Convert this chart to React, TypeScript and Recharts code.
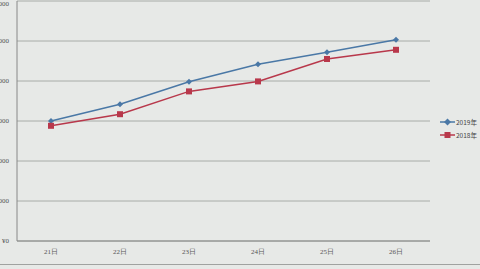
import React from "react";
import {
  LineChart,
  Line,
  XAxis,
  YAxis,
  CartesianGrid
} from "recharts";

const days = ["21日", "22日", "23日", "24日", "25日", "26日"];
const sales2019 = [3000, 3420, 3980, 4420, 4720, 5030];
const sales2018 = [2880, 3170, 3740, 3990, 4550, 4780];
const yTicks = [0, 1000, 2000, 3000, 4000, 5000, 6000];

const data = days.map((day, i) => ({
  day,
  y2019: sales2019[i],
  y2018: sales2018[i]
}));

const yen = (v: number) => "¥" + v.toLocaleString("en-US");

function LegendBox() {
  const items = [
    { label: "2019年", color: "#4a78a6", shape: "diamond" },
    { label: "2018年", color: "#b8384b", shape: "square" }
  ];
  return (
    <div
      style={{
        position: "absolute",
        left: 440,
        top: 115,
        fontSize: 6.5,
        color: "#444",
        whiteSpace: "nowrap",
        fontFamily: "Noto Sans CJK SC, sans-serif"
      }}
    >
      {items.map((it) => (
        <div key={it.label} style={{ display: "flex", alignItems: "center", height: 13 }}>
          <svg width={15} height={8}>
            <line x1={0} y1={4} x2={15} y2={4} stroke={it.color} strokeWidth={1.5} />
            {it.shape === "square" ? (
              <rect x={4.5} y={1} width={6} height={6} fill={it.color} />
            ) : (
              <polygon points="7.5,0.5 11,4 7.5,7.5 4,4" fill={it.color} />
            )}
          </svg>
          <span style={{ marginLeft: 1 }}>{it.label}</span>
        </div>
      ))}
    </div>
  );
}

export default function App() {
  return (
    <div
      style={{
        position: "fixed",
        left: 0,
        top: 0,
        width: 480,
        height: 269,
        background: "#e7e9e7",
        overflow: "hidden"
      }}
    >
      <LineChart
        width={480}
        height={269}
        data={data}
        margin={{ top: 1, right: 50, bottom: 8, left: 0 }}
      >
        <CartesianGrid vertical={false} stroke="#9a9c9a" strokeWidth={0.8} />
        <XAxis
          dataKey="day"
          height={20}
          padding={{ left: 34, right: 34 }}
          tick={{ fontSize: 7, fill: "#555" }}
          stroke="#888"
          tickLine={false}
        />
        <YAxis
          width={17}
          domain={[0, 6000]}
          ticks={yTicks}
          tickFormatter={yen}
          tick={{ fontSize: 7, fill: "#555" }}
          stroke="#888"
          tickLine={false}
        />
        <Line
          type="linear"
          dataKey="y2019"
          name="2019年"
          stroke="#4a78a6"
          strokeWidth={1.5}
          dot={(p: any) => (
            <polygon
              key={p.index}
              points={`${p.cx},${p.cy - 3} ${p.cx + 3},${p.cy} ${p.cx},${p.cy + 3} ${p.cx - 3},${p.cy}`}
              fill="#4a78a6"
            />
          )}
          isAnimationActive={false}
        />
        <Line
          type="linear"
          dataKey="y2018"
          name="2018年"
          stroke="#b8384b"
          strokeWidth={1.5}
          dot={(p: any) => (
            <rect key={p.index} x={p.cx - 3} y={p.cy - 3} width={6} height={6} fill="#b8384b" />
          )}
          isAnimationActive={false}
        />
      </LineChart>
      <LegendBox />
      <div
        style={{
          position: "absolute",
          left: 0,
          top: 264,
          width: 480,
          height: 1,
          background: "#a0a2a0"
        }}
      />
    </div>
  );
}
